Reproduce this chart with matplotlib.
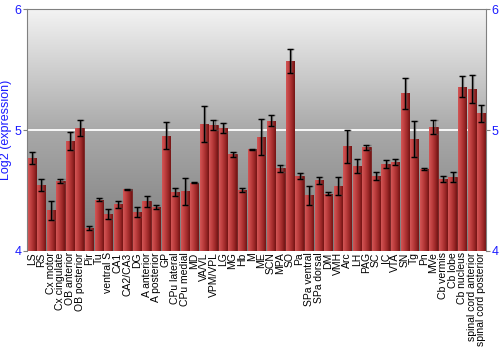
import matplotlib
matplotlib.use("Agg")
import matplotlib.pyplot as plt
import numpy as np
from matplotlib.colors import LinearSegmentedColormap

plt.rcParams['font.family'] = ['Liberation Sans', 'DejaVu Sans']

regions = ["LS", "RS", "Cx motor", "Cx cingulate", "OB anterior", "OB posterior",
           "Pir", "Tu", "ventral S", "CA1", "CA2/CA3", "DG", "A anterior",
           "A posterior", "GP", "CPu lateral", "CPu medial", "MD", "VA/VL",
           "VPM/VPL", "LG", "MG", "Hb", "M", "ME", "SCN", "MPA", "SO", "Pa",
           "SPa ventral", "SPa dorsal", "DM", "VMH", "Arc", "LH", "PAG", "SC",
           "IC", "VTA", "SN", "Tg", "Pn", "MVe", "Cb vermis", "Cb lobe",
           "Cb nucleus", "spinal cord anterior", "spinal cord posterior"]
expr = [4.768, 4.544, 4.337, 4.577, 4.909, 5.019, 4.188, 4.425, 4.304, 4.387,
        4.511, 4.320, 4.412, 4.362, 4.953, 4.489, 4.494, 4.566, 5.050, 5.039,
        5.017, 4.798, 4.503, 4.840, 4.939, 5.077, 4.685, 5.572, 4.616, 4.459,
        4.583, 4.475, 4.536, 4.865, 4.702, 4.856, 4.619, 4.718, 4.735, 5.304,
        4.923, 4.677, 5.022, 4.597, 4.613, 5.356, 5.340, 5.138]
err = [0.052, 0.050, 0.080, 0.015, 0.077, 0.068, 0.015, 0.014, 0.040, 0.028,
       0.005, 0.040, 0.045, 0.014, 0.110, 0.035, 0.110, 0.003, 0.146, 0.041,
       0.039, 0.022, 0.017, 0.004, 0.149, 0.047, 0.028, 0.098, 0.025, 0.075,
       0.032, 0.014, 0.072, 0.134, 0.060, 0.020, 0.030, 0.030, 0.025, 0.126,
       0.149, 0.006, 0.057, 0.026, 0.044, 0.087, 0.119, 0.072]

ymin, ymax = 4, 6
blue = "#1a1aff"

fig = plt.figure(figsize=(5, 3.5), dpi=100)
ax = fig.add_axes([0.054, 0.283, 0.918, 0.691])

x = np.arange(len(regions))
xlo, xhi = -0.5, len(regions) - 0.5

# gray vertical background gradient
bg = LinearSegmentedColormap.from_list("bg", ["#7c7c7c", "#a9a9a9", "#f3f3f3"])
ax.imshow(np.linspace(0, 1, 256).reshape(-1, 1), cmap=bg, origin="lower",
          extent=(xlo, xhi, ymin, ymax), aspect="auto", zorder=0)
ax.axhline(5, color="white", lw=1.3, zorder=1)

# bars with horizontal red gradient
red = LinearSegmentedColormap.from_list("red", ["#d25656", "#bf4040", "#a02a2a", "#741414"])
grad = np.linspace(0, 1, 64).reshape(1, -1)
bars = ax.bar(x, np.array(expr) - ymin, bottom=ymin, width=0.86,
              color="#b03535", edgecolor="#6a1010", linewidth=0.5, zorder=2)
for b in bars:
    im = ax.imshow(grad, cmap=red, extent=(b.get_x(), b.get_x() + b.get_width(),
                   ymin, ymin + b.get_height()), aspect="auto", zorder=2)
    im.set_clip_path(b)

ax.errorbar(x + 0.12, expr, yerr=err, fmt="none", ecolor="#555555",
            elinewidth=1, capsize=2, capthick=1, zorder=3, alpha=0.6)
ax.errorbar(x, expr, yerr=err, fmt="none", ecolor="black",
            elinewidth=1, capsize=2, capthick=1, zorder=4)

ax.set_xlim(xlo, xhi)
ax.set_ylim(ymin, ymax)
ax.set_xticks(x)
ax.set_xticklabels(regions, rotation=90, fontsize=7.5)
ax.tick_params(axis="x", length=0, pad=1)
ax.set_yticks([4, 5, 6])
ax.tick_params(axis="y", which="both", labelsize=9, labelcolor=blue,
               color="#808080", length=3, pad=1, left=True, right=True,
               labelleft=True, labelright=True)
ax.set_ylabel("Log2 (expression)", color=blue, fontsize=9, labelpad=2)
for side in ["top", "left", "right"]:
    ax.spines[side].set_color("#808080")
ax.spines["bottom"].set_visible(False)

fig.savefig("out.png", dpi=100)
